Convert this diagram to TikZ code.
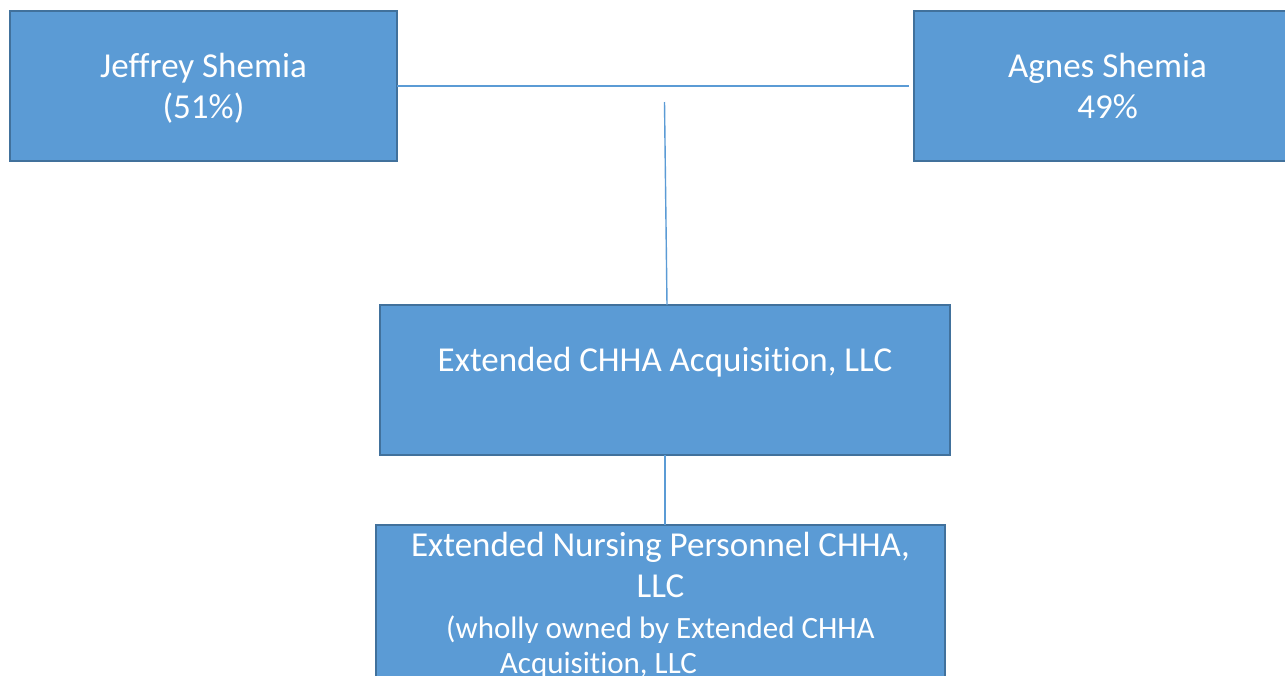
\documentclass[tikz,border=0pt]{standalone}
\usepackage{fontspec}
\setmainfont{Carlito}[Ligatures=NoCommon]
\definecolor{boxfill}{HTML}{5B9BD5}
\definecolor{boxline}{HTML}{41719C}
\definecolor{linkline}{HTML}{5B9BD5}
\newcommand{\ownstrut}{\rule[-2.75pt]{0pt}{17.5pt}}
\begin{document}
\begin{tikzpicture}[x=0.5pt,y=-0.5pt,
 entity/.style={draw=boxline,line width=1pt,fill=boxfill,text=white,inner sep=0pt,outer sep=0pt,
  align=center,font=\fontsize{17.5}{20.5}\selectfont,minimum height=75pt},
 owner/.style={draw=linkline,line width=1pt},
 link/.style={draw=linkline,line width=0.7pt}]
 \useasboundingbox (0,0) rectangle (1285,675);
 \node[entity,minimum width=193.5pt](jeff) at (203.5,85.5) {\ownstrut Jeffrey Shemia\\\ownstrut(51\%)};
 \node[entity,minimum width=193.5pt](agnes) at (1107.5,85.5) {\ownstrut Agnes Shemia\\\ownstrut 49\%};
 \node[entity,minimum width=285pt](acq) at (665,380) {Extended CHHA Acquisition, LLC\\\mbox{}};
 \node[entity,minimum width=284.5pt,minimum height=80pt](enp) at (660.5,605) {Extended Nursing Personnel CHHA,\\LLC\\
  {\fontsize{15.5}{18}\selectfont (wholly owned by Extended CHHA}\\[-3pt]
  {\fontsize{15.5}{18}\selectfont Acquisition, LLC\hspace*{62pt}}};
 \coordinate (join) at (664.5,102);
 \draw[owner,shorten >=2.5pt] (jeff) -- (agnes);
 \draw[link] (join) -- ([xshift=1pt]acq.north);
 \draw[link] (acq.south) -- (acq.south |- enp.north);
\end{tikzpicture}
\end{document}
